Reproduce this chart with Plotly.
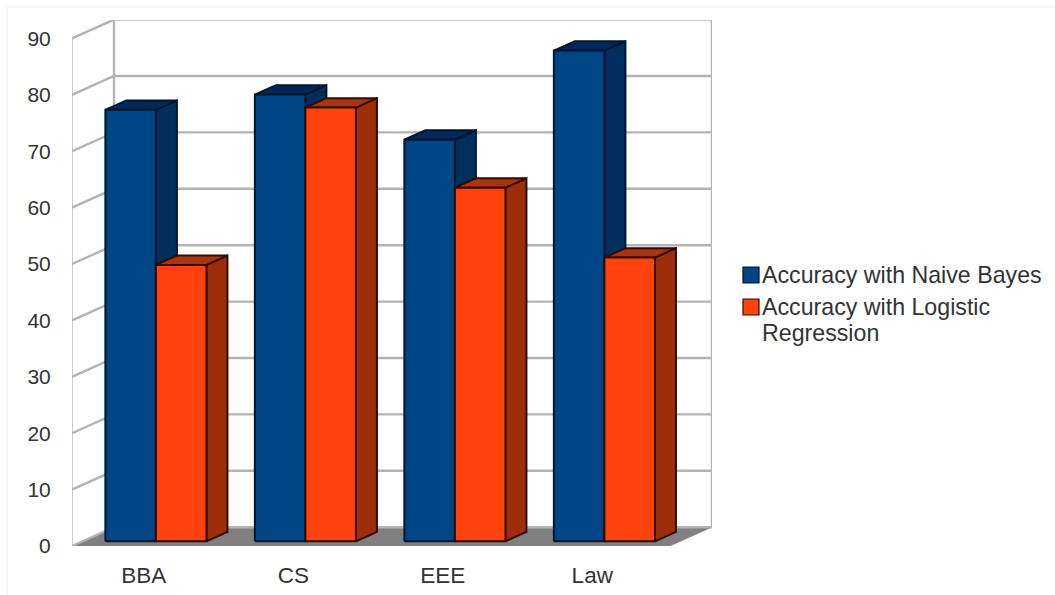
import plotly.graph_objects as go

# Chart data
categories = ["BBA", "CS", "EEE", "Law"]
naive_bayes = [76.5, 79.2, 71.2, 87.0]
logistic_regression = [49.0, 76.9, 62.7, 50.3]
value_ticks = [0, 10, 20, 30, 40, 50, 60, 70, 80, 90]
legend_lines = [["Accuracy with Naive Bayes"], ["Accuracy with Logistic", "Regression"]]

# Page and axis geometry, in pixels
WIDTH, HEIGHT = 1055, 595
LEFT, RIGHT_WALL, BOTTOM, TOP_WALL = 72, 712, 546, 20
PX_PER_CATEGORY = 149.5
PX_PER_UNIT = 5.64

# Oblique projection of the depth axis, in data units
DEPTH_X = 42 / PX_PER_CATEGORY
DEPTH_Y = 18.8 / PX_PER_UNIT
BAR_NEAR, BAR_FAR = 0.25, 0.75
BAR_GAP, BAR_WIDTH = 0.153, 0.338

FONT = "Liberation Sans"
TEXT = "#333333"
GRID = "#b3b3b3"
FLOOR = "#808080"
PALETTE = [
    {"front": "#004586", "side": "#002f5e", "top": "#00285a", "edge": "#00152e"},
    {"front": "#ff420e", "side": "#9c2f0a", "top": "#a5360f", "edge": "#330a00"},
]


def project(x, value, depth):
    """Map a (category, value, depth) position onto the flat axes."""
    return x + depth * DEPTH_X, value + depth * DEPTH_Y


def polygon(corners):
    xs, ys = zip(*(project(*c) for c in corners))
    return list(xs) + [xs[0]], list(ys) + [ys[0]]


fig = go.Figure()
n = len(categories)
top_value = value_ticks[-1]


def add_face(corners, fill, edge=None, width=2):
    xs, ys = polygon(corners)
    fig.add_trace(go.Scatter(
        x=xs, y=ys, mode="lines", fill="toself", fillcolor=fill,
        line=dict(color=edge or fill, width=width),
        hoverinfo="skip", showlegend=False,
    ))


def add_wall_line(corners, width=2.4):
    xs, ys = zip(*(project(*c) for c in corners))
    fig.add_trace(go.Scatter(
        x=list(xs), y=list(ys), mode="lines",
        line=dict(color=GRID, width=width),
        hoverinfo="skip", showlegend=False,
    ))


# Floor of the plot box
add_face([(0, 0, 0), (n, 0, 0), (n, 0, 1), (0, 0, 1)], FLOOR, width=0.5)

# Gridlines running along the side wall and the back wall
for v in value_ticks:
    add_wall_line([(0, v, 0), (0, v, 1), (n, v, 1)])

# Wall edges
add_wall_line([(0, 0, 0), (0, top_value, 0)], width=1.4)
add_wall_line([(0, 0, 1), (0, top_value, 1)])
add_wall_line([(n, 0, 1), (n, top_value, 1)])

# Bars: each one is a side, a top and a front face
for i in range(n):
    for s, values in enumerate([naive_bayes, logistic_regression]):
        v = values[i]
        x0 = i + BAR_GAP + s * BAR_WIDTH
        x1 = x0 + BAR_WIDTH
        c = PALETTE[s]
        add_face([(x1, 0, BAR_NEAR), (x1, 0, BAR_FAR), (x1, v, BAR_FAR), (x1, v, BAR_NEAR)],
                 c["side"], c["edge"])
        add_face([(x0, v, BAR_NEAR), (x1, v, BAR_NEAR), (x1, v, BAR_FAR), (x0, v, BAR_FAR)],
                 c["top"], c["edge"])
        add_face([(x0, 0, BAR_NEAR), (x1, 0, BAR_NEAR), (x1, v, BAR_NEAR), (x0, v, BAR_NEAR)],
                 c["front"], c["edge"])

# Faint page frame, then legend keys and labels, placed in page fractions
paper_x = lambda px: (px - LEFT) / (RIGHT_WALL - LEFT)
paper_y = lambda py: (BOTTOM - py) / (BOTTOM - TOP_WALL)
shapes = [
    dict(type="line", xref="paper", yref="paper", layer="below",
         x0=paper_x(7), x1=paper_x(WIDTH), y0=paper_y(7), y1=paper_y(7),
         line=dict(color="#f0f0f0", width=1)),
    dict(type="line", xref="paper", yref="paper", layer="below",
         x0=paper_x(7), x1=paper_x(7), y0=paper_y(HEIGHT), y1=paper_y(7),
         line=dict(color="#f0f0f0", width=1)),
]
annotations = []
legend_rows = [275, 307]
line_step = 26
for lines, row, c in zip(legend_lines, legend_rows, PALETTE):
    shapes.append(dict(
        type="rect", xref="paper", yref="paper",
        x0=paper_x(743), x1=paper_x(759),
        y0=paper_y(row + 8), y1=paper_y(row - 8),
        fillcolor=c["front"], line=dict(color=c["edge"], width=1.2),
    ))
    for k, line in enumerate(lines):
        annotations.append(dict(
            text=line, xref="paper", yref="paper", showarrow=False,
            x=paper_x(762), y=paper_y(row + k * line_step),
            xanchor="left", yanchor="middle", align="left",
            borderpad=0, borderwidth=0,
            font=dict(family=FONT, size=23.2, color=TEXT),
        ))

fig.update_layout(
    width=WIDTH, height=HEIGHT, autosize=False,
    margin=dict(l=LEFT, r=WIDTH - RIGHT_WALL, t=TOP_WALL, b=HEIGHT - BOTTOM, pad=0),
    paper_bgcolor="white", plot_bgcolor="white",
    showlegend=False, shapes=shapes, annotations=annotations,
    font=dict(family=FONT, size=20, color=TEXT),
    xaxis=dict(
        range=[0, (RIGHT_WALL - LEFT) / PX_PER_CATEGORY],
        tickmode="array", tickvals=[i + 0.48 for i in range(n)], ticktext=categories,
        tickfont=dict(size=22.5),
        showgrid=False, zeroline=False, showline=False, automargin=False,
        ticks="outside", ticklen=9, tickcolor="rgba(0,0,0,0)",
    ),
    yaxis=dict(
        range=[0, (BOTTOM - TOP_WALL) / PX_PER_UNIT],
        tickmode="array", tickvals=value_ticks,
        tickfont=dict(size=21),
        showgrid=False, zeroline=False, showline=False, automargin=False,
        ticks="outside", ticklen=16, tickcolor="rgba(0,0,0,0)",
    ),
)

fig.write_html("out.html")
